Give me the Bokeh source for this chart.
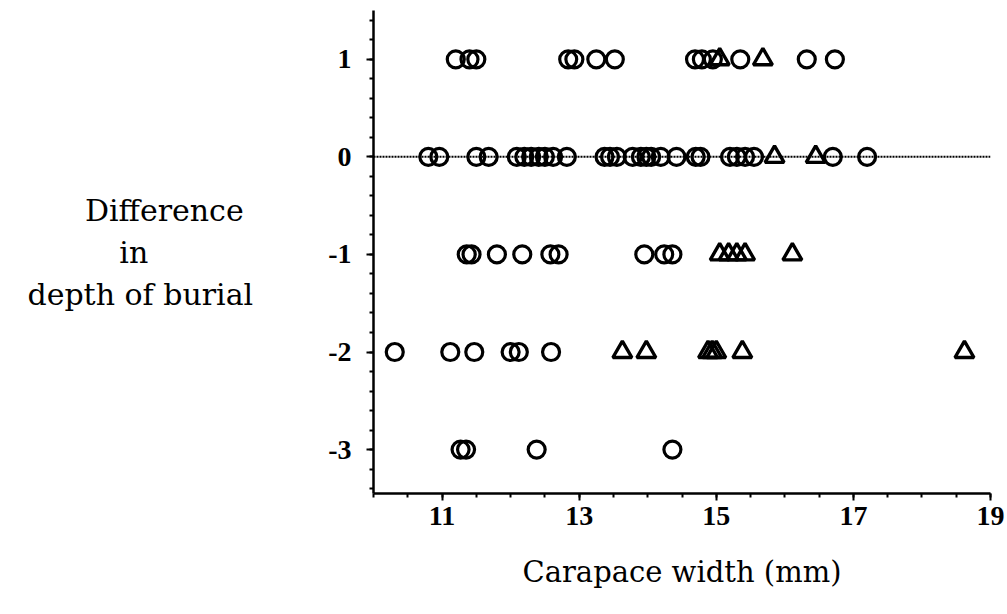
from bokeh.plotting import figure
from bokeh.models import FixedTicker, Span, Range1d
from bokeh.embed import file_html
from bokeh.resources import INLINE
import numpy as np

# Open circles
circle_width = [11.2, 11.4, 11.5, 12.84, 12.93, 13.25, 13.52, 14.69, 14.79, 14.95, 15.35, 16.32, 16.73,
                10.8, 10.96, 11.5, 11.68, 12.09, 12.2, 12.3, 12.41, 12.5, 12.62, 12.82,
                13.37, 13.45, 13.55, 13.78, 13.9, 13.98, 14.05, 14.19, 14.42, 14.7, 14.77,
                15.2, 15.3, 15.42, 15.55, 16.7, 17.2,
                11.36, 11.43, 11.8, 12.17, 12.58, 12.7, 13.95, 14.24, 14.36,
                10.31, 11.12, 11.47, 12.0, 12.12, 12.59,
                11.27, 11.35, 12.38, 14.36]
circle_diff = [1] * 13 + [0] * 28 + [-1] * 9 + [-2] * 6 + [-3] * 4

# Open triangles
tri_width = [15.05, 15.68,
             15.85, 16.45,
             15.05, 15.18, 15.3, 15.42, 16.11,
             13.63, 13.98, 14.88, 14.94, 15.0, 15.38, 18.62]
tri_diff = [1] * 2 + [0] * 2 + [-1] * 5 + [-2] * 7

x_ticks = [11, 13, 15, 17, 19]
y_ticks = [-3, -2, -1, 0, 1]
y_tick_labels = ["-3", "-2", "-1", "0", "1"]

LABEL_FONT = "DejaVu Serif"
TICK_FONT = "Liberation Serif"
NB = "\u00a0"

p = figure(width=1007, height=614, output_backend="svg", toolbar_location=None,
           x_range=Range1d(10, 19), y_range=Range1d(-3.45, 1.5),
           min_border_left=373, min_border_right=17, min_border_top=10, min_border_bottom=121)
p.grid.visible = False
p.outline_line_color = None
p.background_fill_color = "white"
p.border_fill_color = "white"

p.xaxis.ticker = FixedTicker(ticks=x_ticks, minor_ticks=list(np.arange(10, 19.01, 0.5)))
p.yaxis.ticker = FixedTicker(ticks=y_ticks, minor_ticks=list(np.round(np.arange(-3.4, 1.51, 0.2), 2)))
p.yaxis.major_label_overrides = {t: s for t, s in zip(y_ticks, y_tick_labels)}

for ax in (p.xaxis[0], p.yaxis[0]):
    ax.axis_line_width = 2.5
    ax.axis_line_color = "black"
    ax.major_tick_line_width = 2
    ax.minor_tick_line_width = 2
    ax.major_tick_out = 7
    ax.major_tick_in = 0
    ax.minor_tick_out = 4
    ax.minor_tick_in = 0
    ax.major_label_text_font = TICK_FONT
    ax.major_label_text_font_style = "bold"
    ax.major_label_text_font_size = "28px"
    ax.major_label_text_color = "black"

p.xaxis.major_label_standoff = 6
p.yaxis.major_label_standoff = 15
p.xaxis.axis_label = "Carapace width (mm)"
p.xaxis.axis_label_text_font = LABEL_FONT
p.xaxis.axis_label_text_font_style = "normal"
p.xaxis.axis_label_text_font_size = "29px"
p.xaxis.axis_label_text_color = "black"
p.xaxis.axis_label_standoff = 27

p.yaxis.axis_label = "Difference" + NB * 1 + "\nin" + NB * 11 + "\ndepth of burial"
p.yaxis.axis_label_orientation = "horizontal"
p.yaxis.axis_label_text_font = LABEL_FONT
p.yaxis.axis_label_text_font_style = "normal"
p.yaxis.axis_label_text_font_size = "30px"
p.yaxis.axis_label_text_color = "black"
p.yaxis.axis_label_text_line_height = 1.2
p.yaxis.axis_label_standoff = 72

zero = Span(location=0, dimension="width", line_color="black", line_width=2, line_dash="2 1")
p.add_layout(zero)

p.scatter(circle_width, circle_diff, marker="circle", size=17, fill_color=None,
          line_color="black", line_width=3.2)
p.scatter(tri_width, tri_diff, marker="triangle", size=19, fill_color=None,
          line_color="black", line_width=3.4)

open("out.html", "w").write(file_html(p, INLINE))
